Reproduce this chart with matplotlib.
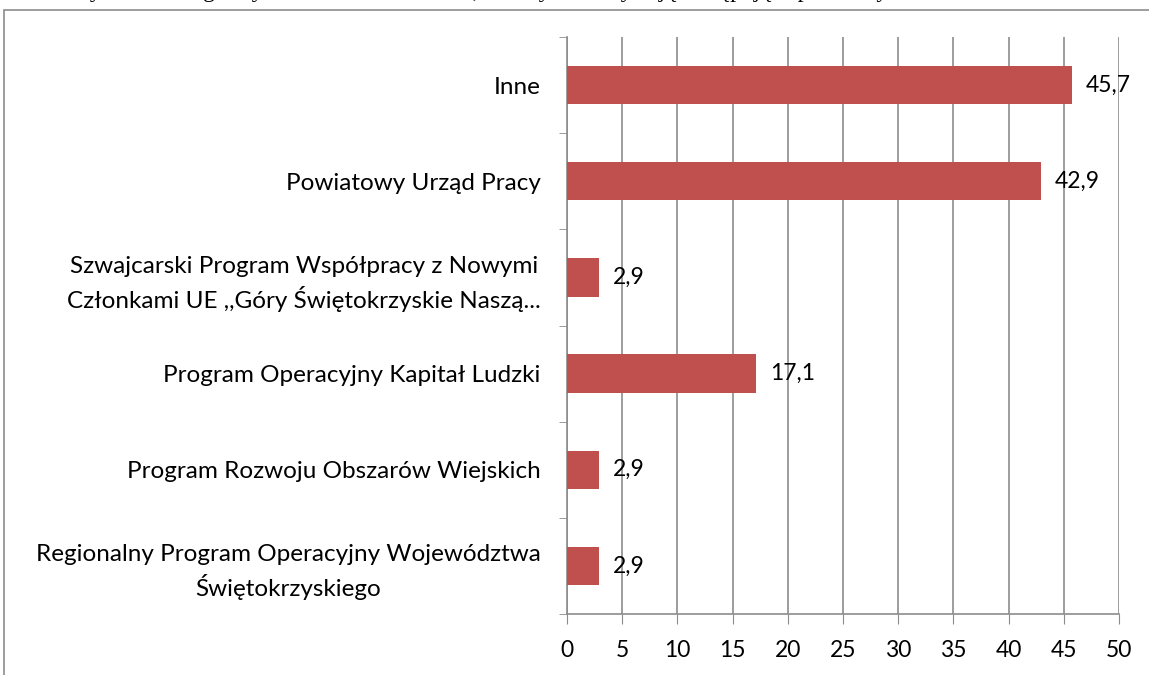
import matplotlib.pyplot as plt
from matplotlib.patches import Rectangle

plt.rcParams['font.family'] = ['Lato', 'DejaVu Sans']

categories = [
    'Regionalny Program Operacyjny Województwa\nŚwiętokrzyskiego',
    'Program Rozwoju Obszarów Wiejskich',
    'Program Operacyjny Kapitał Ludzki',
    'Szwajcarski Program Współpracy z Nowymi\nCzłonkami UE ,,Góry Świętokrzyskie Naszą...',
    'Powiatowy Urząd Pracy',
    'Inne',
]
values = [2.9, 2.9, 17.1, 2.9, 42.9, 45.7]
xticks = [0, 5, 10, 15, 20, 25, 30, 35, 40, 45, 50]

grid_col = '#8c8c8c'
bar_col = '#c0504d'

fig = plt.figure(figsize=(11.49, 6.75), dpi=100)
# outer chart frame (only top/left visible in the crop)
fig.patches.append(Rectangle((4 / 1149, -0.1), 1.2, (675 - 10) / 675 + 0.1,
                             transform=fig.transFigure, fill=False,
                             edgecolor=grid_col, lw=1.2))
# caption line of the page, cut off by the crop in the source too
fig.text(0.06, 1.012, 'Wykres 9. Programy i źródła finansowania, z których korzystają następujące podmioty',
         family='Liberation Serif', fontsize=17, ha='left', va='center')

ax = fig.add_axes([567 / 1149, 1 - 614 / 675, (1119 - 567) / 1149, (614 - 37) / 675])
y = range(len(categories))
ax.barh(y, values, height=0.4, color=bar_col, zorder=3)
for yi, v in zip(y, values):
    ax.text(v + 1.3, yi, f'{v:.1f}'.replace('.', ','), va='center', ha='left',
            fontsize=16.5, zorder=4)

ax.set_xlim(0, 50)
ax.set_ylim(-0.5, len(categories) - 0.5)
ax.set_xticks(xticks)
ax.set_xticklabels([str(t) for t in xticks], fontsize=16.5)
ax.set_yticks(list(y))
ax.set_yticklabels(categories, fontsize=17.5, multialignment='center', linespacing=1.4)
ax.set_yticks([i - 0.5 for i in range(len(categories) + 1)], minor=True)
ax.tick_params(axis='y', which='major', length=0, pad=19)
ax.tick_params(axis='y', which='minor', length=6, color=grid_col, direction='out')
ax.tick_params(axis='x', length=7, color=grid_col, direction='out', pad=12)
ax.xaxis.grid(True, color=grid_col, lw=1.2, zorder=0)
for s in ['top', 'right']:
    ax.spines[s].set_visible(False)
for s in ['left', 'bottom']:
    ax.spines[s].set_color(grid_col)
    ax.spines[s].set_linewidth(1.2)

fig.savefig('out.png', dpi=100)
